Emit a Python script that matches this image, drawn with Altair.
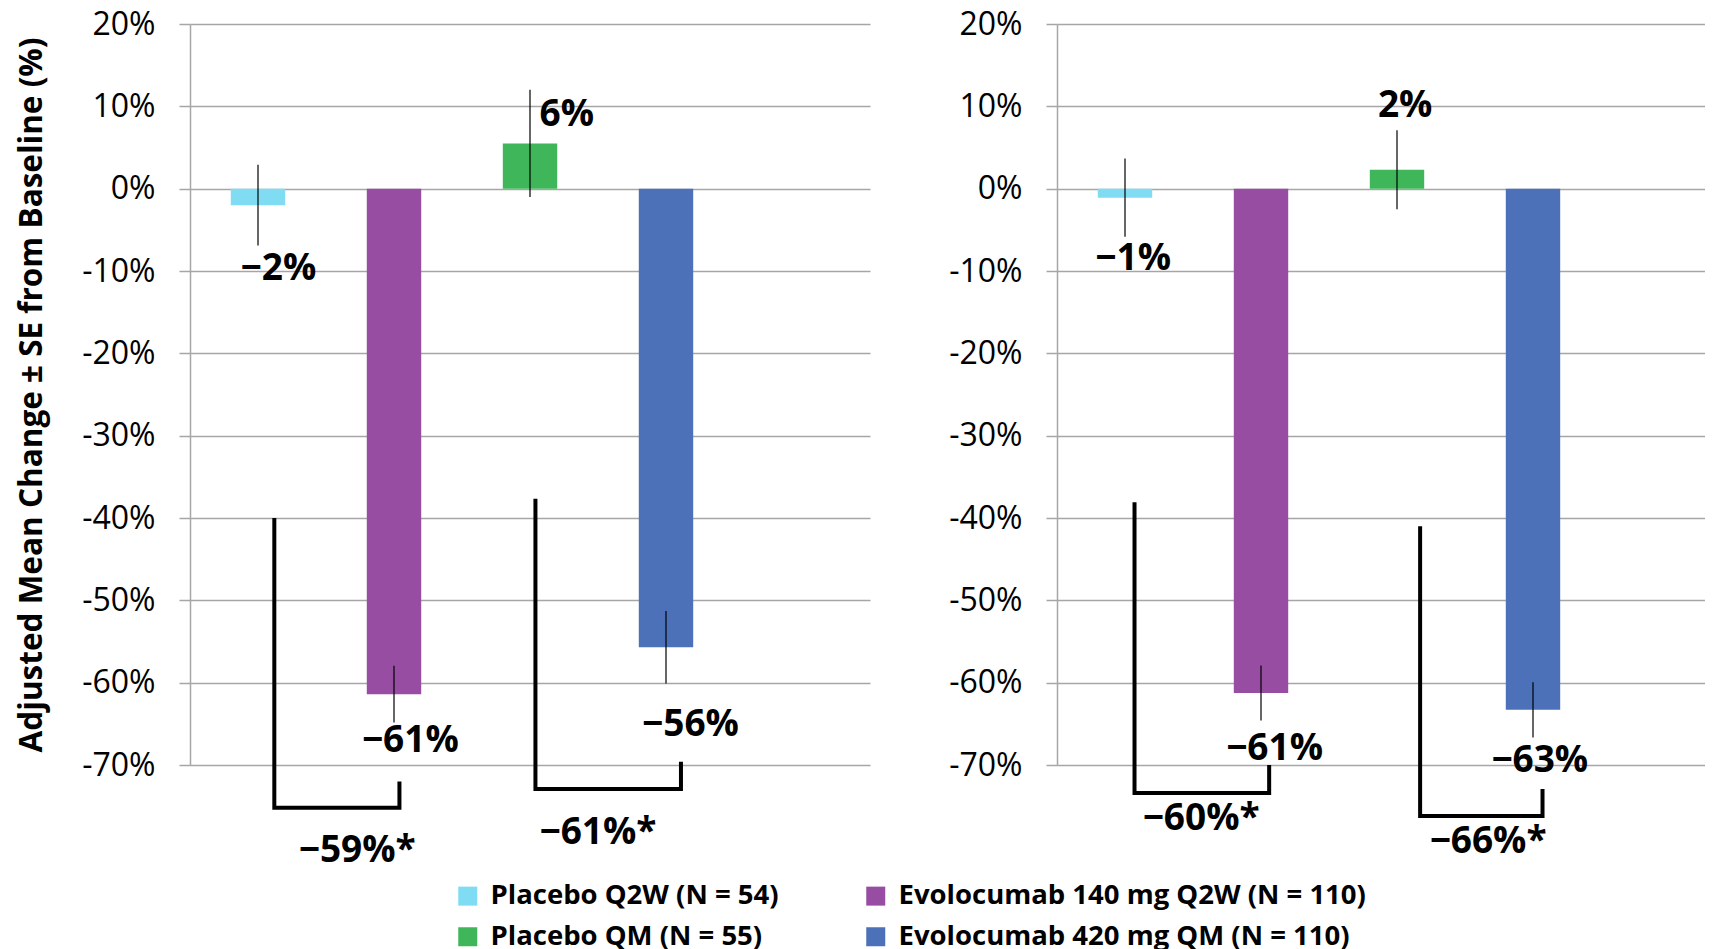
import altair as alt
import pandas as pd

# ---- data ----
groups = [  # order of the bars along x
    "Placebo Q2W (N = 54)",
    "Evolocumab 140 mg Q2W (N = 110)",
    "Placebo QM (N = 55)",
    "Evolocumab 420 mg QM (N = 110)",
]
colors = ["#7FDCF3", "#974EA2", "#40B65A", "#4C71B9"]
legend_order = [
    "Placebo Q2W (N = 54)",
    "Placebo QM (N = 55)",
    "Evolocumab 140 mg Q2W (N = 110)",
    "Evolocumab 420 mg QM (N = 110)",
]
legend_colors = [colors[groups.index(g)] for g in legend_order]

values_a = [-2.0, -61.4, 5.5, -55.7]
se_a = [4.9, 3.45, 6.5, 4.4]
labels_a = ["−2%", "−61%", "6%", "−56%"]
diff_labels_a = ["−59%*", "−61%*"]

values_b = [-1.1, -61.25, 2.3, -63.3]
se_b = [4.75, 3.35, 4.8, 3.35]
labels_b = ["−1%", "−61%", "2%", "−63%"]
diff_labels_b = ["−60%*", "−66%*"]

y_ticks = [-70, -60, -50, -40, -30, -20, -10, 0, 10, 20]

# ---- annotation layout (data units: x in bar slots, y in %) ----
label_x_a = [0.65, 1.62, 2.77, 3.68]
label_y_a = [-9.7, -67.1, 9.0, -65.1]
diff_x_a = [1.23, 3.0]
diff_y_a = [-80.5, -78.3]
brackets_a = [  # x_left, x_right, y_top_left, y_bottom, y_top_right
    (0.62, 1.54, -40.0, -75.2, -72.0),
    (2.54, 3.61, -37.65, -72.9, -69.6),
]

label_x_b = [0.56, 1.60, 2.56, 3.55]
label_y_b = [-8.6, -68.0, 10.1, -69.5]
diff_x_b = [1.06, 3.17]
diff_y_b = [-76.6, -79.4]
brackets_b = [
    (0.57, 1.56, -38.1, -73.4, -70.0),
    (2.67, 3.57, -41.0, -76.2, -72.9),
]

GRID = "#A6A6A6"
FONT = "Open Sans"


def make_panel(values, ses, labels, lx, ly, diffs, dx, dy, brackets, width, xmax, with_title):
    bars = pd.DataFrame({
        "group": groups,
        "pos": [i + 0.5 for i in range(len(groups))],
        "value": values,
        "se": ses,
    })
    bars["left"] = bars["pos"] - 0.2
    bars["right"] = bars["pos"] + 0.2
    bars["zero"] = 0.0
    bars["lo"] = bars["value"] - bars["se"]
    bars["hi"] = bars["value"] + bars["se"]

    lab = pd.DataFrame({"x": lx, "y": ly, "text": labels})
    dlab = pd.DataFrame({"x": dx, "y": dy, "text": diffs})

    rows = []
    for k, (xl, xr, ytl, yb, ytr) in enumerate(brackets):
        pts = [(xl, ytl), (xl, yb), (xr, yb), (xr, ytr)]
        for j, (px, py) in enumerate(pts):
            rows.append({"b": k, "i": j, "x": px, "y": py})
    br = pd.DataFrame(rows)

    xs = alt.Scale(domain=[0, xmax], nice=False, zero=False)
    ys = alt.Scale(domain=[-70, 20], nice=False, zero=False)

    axis_kw = dict(
        values=y_ticks,
        labelExpr="datum.value + '%'",
        titleFont=FONT,
        titleFontSize=31.5,
        titleFontWeight="bold",
        titleColor="black",
        titlePadding=33,
        labelFont=FONT,
        labelFontSize=32,
        labelColor="black",
        labelPadding=24,
        tickSize=11,
        tickColor=GRID,
        tickWidth=1.5,
        domainColor=GRID,
        domainWidth=1.5,
        gridColor=GRID,
        gridWidth=1.5,
        grid=True,
    )
    title = "Adjusted Mean Change ± SE from Baseline (%)" if with_title else None

    def Y(field):
        return alt.Y(field, scale=ys, title=title, axis=alt.Axis(**axis_kw))

    bar = alt.Chart(bars).mark_bar().encode(
        x=alt.X("left:Q", scale=xs, axis=None),
        x2="right:Q",
        y=Y("value:Q"),
        y2="zero:Q",
        color=alt.Color(
            "group:N",
            scale=alt.Scale(domain=legend_order, range=legend_colors),
            legend=alt.Legend(
                title=None,
                orient="none",
                legendX=264,
                legendY=858,
                columns=2,
                symbolType="square",
                symbolSize=361,
                symbolStrokeWidth=0,
                labelFont=FONT,
                labelFontWeight="bold",
                labelFontSize=27.5,
                labelColor="black",
                labelLimit=0,
                labelOffset=9,
                columnPadding=83,
                rowPadding=12,
            ),
        ),
    )

    err = alt.Chart(bars).mark_rule(color="black", strokeWidth=1.2).encode(
        x=alt.X("pos:Q", scale=xs, axis=None),
        y=Y("lo:Q"),
        y2="hi:Q",
    )

    bracket = alt.Chart(br).mark_line(color="black", strokeWidth=4, strokeJoin="miter").encode(
        x=alt.X("x:Q", scale=xs, axis=None),
        y=Y("y:Q"),
        detail="b:N",
        order="i:Q",
    )

    txt_style = dict(font=FONT, fontWeight="bold", fontSize=37, color="black",
                     align="center", baseline="middle")
    vlab = alt.Chart(lab).mark_text(**txt_style).encode(
        x=alt.X("x:Q", scale=xs, axis=None),
        y=Y("y:Q"),
        text="text:N",
    )
    dl = alt.Chart(dlab).mark_text(**txt_style).encode(
        x=alt.X("x:Q", scale=xs, axis=None),
        y=Y("y:Q"),
        text="text:N",
    )

    return alt.layer(bar, err, bracket, vlab, dl).properties(width=width, height=741)


left = make_panel(values_a, se_a, labels_a, label_x_a, label_y_a,
                  diff_labels_a, diff_x_a, diff_y_a, brackets_a, 680, 5.0, True)
right = make_panel(values_b, se_b, labels_b, label_x_b, label_y_b,
                   diff_labels_b, diff_x_b, diff_y_b, brackets_b, 648, 648 / 136, False)

chart = (
    alt.hconcat(left, right, spacing=78)
    .properties(padding={"left": 8, "top": 0, "right": 0, "bottom": 0})
    .configure_view(stroke=None)
)

chart.save("out.html", embed_options={"renderer": "svg", "actions": False})
